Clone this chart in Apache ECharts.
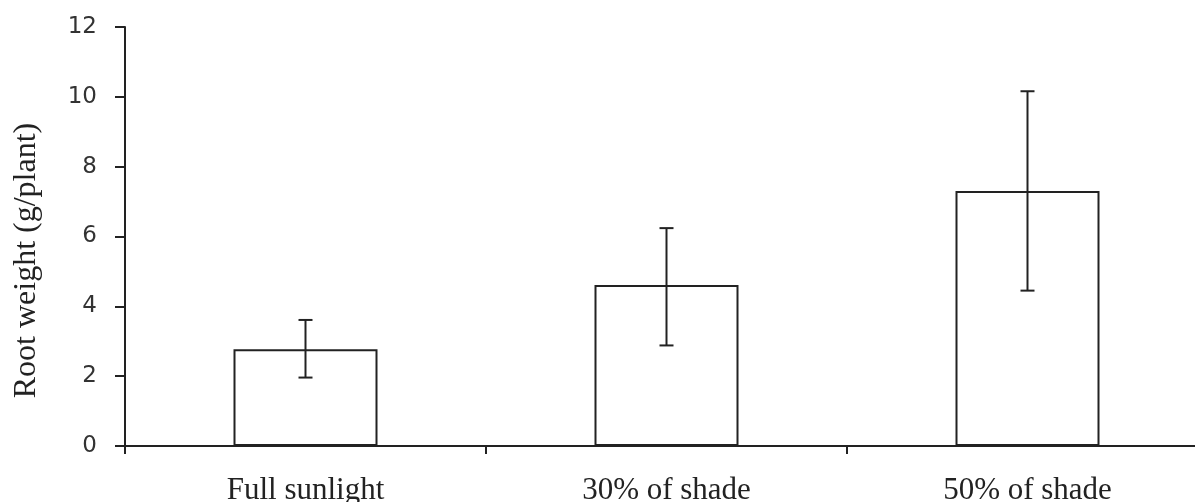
<!DOCTYPE html>
<html>
<head>
<meta charset="utf-8">
<script src="https://cdn.jsdelivr.net/npm/echarts@6/dist/echarts.min.js"></script>
<style>html,body{margin:0;padding:0;background:#fff;}#chart{width:1195px;height:502px;}</style>
</head>
<body>
<div id="chart"></div>
<script>
const categories = ['Full sunlight', '30% of shade', '50% of shade'];
const means = [2.77, 4.61, 7.30];
const errLow = [1.96, 2.88, 4.45];
const errHigh = [3.61, 6.24, 10.16];
const yTicks = [0, 2, 4, 6, 8, 10, 12];
const yName = 'Root weight (g/plant)';

const chart = echarts.init(document.getElementById('chart'));
const ink = '#222';
chart.setOption({
  animation: false,
  grid: { left: 125, top: 27, bottom: 56, width: 1083, outerBoundsMode: 'none', containLabel: false },
  xAxis: {
    type: 'category',
    data: categories,
    axisLine: { lineStyle: { color: ink, width: 2 } },
    axisTick: { show: true, length: 8, lineStyle: { color: ink, width: 2 } },
    axisLabel: { margin: 29, fontFamily: 'Liberation Serif', fontSize: 31, color: '#222' }
  },
  yAxis: {
    type: 'value',
    min: yTicks[0],
    max: yTicks[yTicks.length - 1],
    interval: 2,
    name: yName,
    nameLocation: 'middle',
    nameRotate: 90,
    nameGap: 82,
    nameTextStyle: { fontFamily: 'Liberation Serif', fontSize: 32, color: '#222', padding: [0, 48, 0, 0] },
    splitLine: { show: false },
    axisLine: { show: true, lineStyle: { color: ink, width: 2 } },
    axisTick: { show: true, length: 10, lineStyle: { color: ink, width: 2 } },
    axisLabel: { margin: 28, fontFamily: 'DejaVu Sans', fontSize: 23, color: '#333' }
  },
  series: [
    {
      type: 'bar',
      data: means,
      barWidth: 144,
      itemStyle: { color: '#fff', borderColor: ink, borderWidth: 2 }
    },
    {
      type: 'custom',
      data: categories.map((c, i) => [i, errLow[i], errHigh[i]]),
      renderItem: function (params, api) {
        const x = api.value(0);
        const lo = api.coord([x, api.value(1)]);
        const hi = api.coord([x, api.value(2)]);
        const half = 7;
        const style = { stroke: ink, lineWidth: 2 };
        return {
          type: 'group',
          children: [
            { type: 'line', shape: { x1: lo[0], y1: lo[1], x2: hi[0], y2: hi[1] }, style: style },
            { type: 'line', shape: { x1: lo[0] - half, y1: lo[1], x2: lo[0] + half, y2: lo[1] }, style: style },
            { type: 'line', shape: { x1: hi[0] - half, y1: hi[1], x2: hi[0] + half, y2: hi[1] }, style: style }
          ]
        };
      },
      z: 5
    }
  ]
});
</script>
</body>
</html>
